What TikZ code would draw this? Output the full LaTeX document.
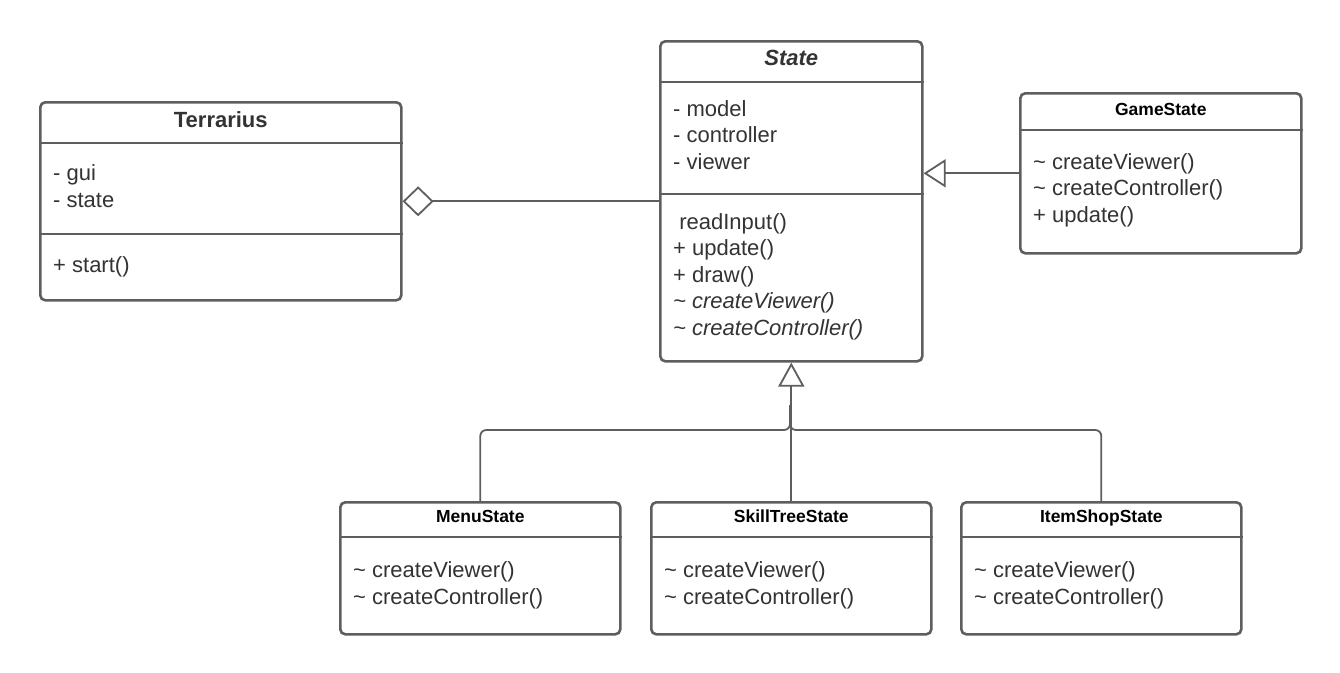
\documentclass[tikz,border=0pt]{standalone}
\usepackage{fontspec}
\setmainfont{Liberation Sans}
\usetikzlibrary{arrows.meta}

\definecolor{linegrey}{HTML}{5E5E5E}
\definecolor{textgrey}{HTML}{333333}

\tikzset{
  classbox/.style={draw=linegrey, line width=2.6pt, rounded corners=5pt,
    inner sep=0pt, anchor=north west, fill=white},
  divider/.style={draw=linegrey, line width=2.6pt},
  member/.style={anchor=base west, inner sep=0pt, text=textgrey,
    font=\fontsize{22}{26}\selectfont},
  classname/.style={anchor=base, inner sep=0pt, text=textgrey,
    font=\bfseries\fontsize{22}{26}\selectfont},
  subname/.style={anchor=base, inner sep=0pt, text=black,
    font=\bfseries\fontsize{17.5}{21}\selectfont},
  conn/.style={draw=linegrey, line width=1.8pt},
}

\begin{document}
\begin{tikzpicture}[x=1pt, y=-1pt]
    \useasboundingbox (0,0) rectangle (1340,672);

    % Terrarius
    \node[classbox, minimum width=361pt, minimum height=198pt] (terrarius) at (39,101) {};
    \node[classname] (terrarius-name) at (terrarius.north |- 0,127) {Terrarius};
    \draw[divider] (terrarius.west |- 0,143) -- (terrarius.east |- 0,143);
    \draw[divider] (terrarius.west |- 0,234) -- (terrarius.east |- 0,234);
    \foreach \m [count=\i from 0] in {- gui, - state}
      \node[member] (terrarius-attr\i) at (53,180+27*\i) {\m};
    \node[member] (terrarius-op0) at (53,272) {+ start()};

    % State
    \node[classbox, minimum width=262pt, minimum height=320pt] (state) at (659,40) {};
    \node[classname, font=\bfseries\itshape\fontsize{22}{26}\selectfont] (state-name) at (state.north |- 0,65) {State};
    \draw[divider] (state.west |- 0,82) -- (state.east |- 0,82);
    \draw[divider] (state.west |- 0,194) -- (state.east |- 0,194);
    \foreach \m [count=\i from 0] in {- model, - controller, - viewer}
      \node[member] (state-attr\i) at (673,116+26.5*\i) {\m};
    \foreach \m [count=\i from 0] in {\ readInput(), + update(), + draw(),
        {\itshape\textasciitilde{} createViewer()}, {\itshape\textasciitilde{} createController()}}
      \node[member] (state-op\i) at (673,229+26.5*\i) {\m};

    % GameState
    \node[classbox, minimum width=281pt, minimum height=160pt] (game) at (1019,92) {};
    \node[subname] (game-name) at (game.north |- 0,115) {GameState};
    \draw[divider] (game.west |- 0,130) -- (game.east |- 0,130);
    \foreach \m [count=\i from 0] in {\textasciitilde{} createViewer(), \textasciitilde{} createController(), + update()}
      \node[member] (game-op\i) at (1033,169+26.5*\i) {\m};

    % subclasses below
    \foreach \n/\t/\x in {menu/MenuState/339, skill/SkillTreeState/650, shop/ItemShopState/960} {
      \node[classbox, minimum width=280pt, minimum height=132pt] (\n) at (\x,501) {};
      \node[subname] (\n-name) at (\n.north |- 0,522) {\t};
      \draw[divider] (\n.west |- 0,537) -- (\n.east |- 0,537);
      \node[member] (\n-op0) at (\x+14,577) {\textasciitilde{} createViewer()};
      \node[member] (\n-op1) at (\x+14,604) {\textasciitilde{} createController()};
    }

    % connectors
    \draw[conn, {Diamond[open, length=31pt, width=30pt]}-] (terrarius.east) -- (state.west);
    \draw[conn, -{Triangle[open, length=22pt, width=28pt]}] (game.west) -- (state.east |- game.west);

    \coordinate (bus) at (790,430);
    \coordinate (up) at (790,405);
    \draw[conn, -{Triangle[open, length=24pt, width=26pt]}] (skill.north) -- (state.south);
    \draw[conn, rounded corners=6pt] (menu.north) |- (bus) -- (up);
    \draw[conn, rounded corners=6pt] (shop.north) |- (bus) -- (up);
\end{tikzpicture}
\end{document}
